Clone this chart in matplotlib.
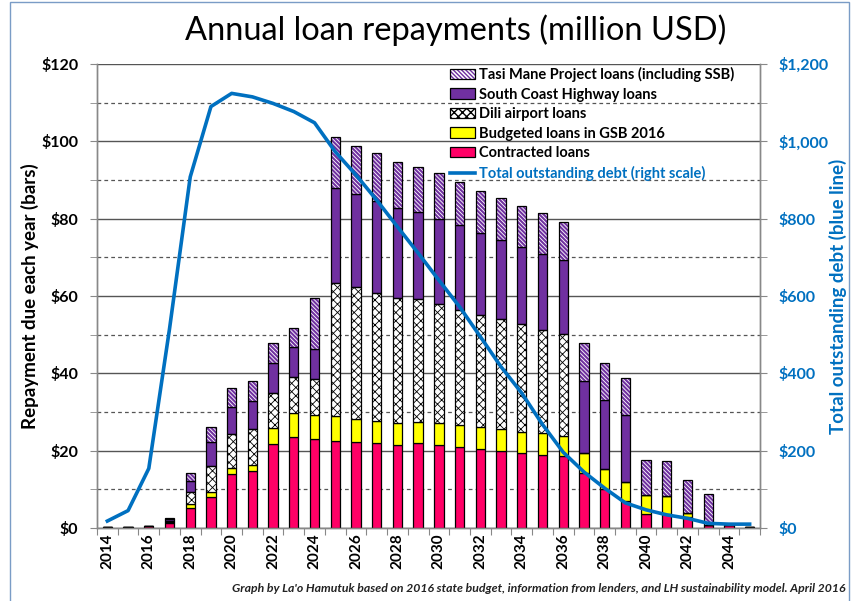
import matplotlib
matplotlib.use("Agg")
import matplotlib.pyplot as plt
import numpy as np
from matplotlib.patches import Patch, Rectangle
from matplotlib.lines import Line2D
from matplotlib.legend_handler import HandlerTuple
from matplotlib.ticker import FuncFormatter, MultipleLocator, FixedLocator

years = list(range(2014, 2046))
contracted = [0.2, 0.2, 0.6, 1.3, 5.3, 7.9, 14.0, 14.7, 21.7, 23.6, 22.9, 22.6, 22.2, 21.9,
              21.4, 21.9, 21.4, 20.9, 20.4, 19.9, 19.5, 19.0, 18.6, 14.3, 10.0, 7.0, 3.5,
              3.5, 2.9, 0.9, 0.8, 0.3]
budgeted = [0, 0, 0, 0.2, 0.9, 1.3, 1.4, 1.6, 4.1, 6.2, 6.4, 6.4, 6.0, 5.9, 5.8, 5.6, 5.7,
            5.7, 5.6, 5.6, 5.4, 5.5, 5.2, 5.2, 5.2, 5.0, 5.0, 4.8, 0.9, 0, 0, 0]
dili = [0, 0, 0, 0.3, 3.2, 6.9, 8.8, 9.2, 9.2, 9.2, 9.2, 34.4, 34.0, 33.1, 32.4, 31.6, 30.8,
        29.9, 29.2, 28.5, 27.8, 26.8, 26.3, 0, 0, 0, 0, 0, 0, 0, 0, 0]
south_coast = [0, 0, 0, 0.4, 2.8, 6.2, 7.2, 7.4, 7.6, 7.7, 7.7, 24.6, 24.2, 23.7, 23.1, 22.7,
               21.9, 21.8, 21.0, 20.5, 20.0, 19.5, 19.2, 18.5, 17.9, 17.2, 0, 0, 0, 0, 0, 0]
tasi_mane = [0, 0, 0, 0.5, 2.1, 3.9, 4.7, 5.2, 5.2, 4.9, 13.2, 13.0, 12.4, 12.3, 12.0, 11.6,
             11.9, 11.3, 11.0, 10.9, 10.6, 10.6, 9.9, 9.9, 9.5, 9.5, 9.1, 8.9, 8.6, 7.9, 0, 0]
total_debt = [18, 45, 154, 515, 908, 1090, 1124, 1115, 1098, 1077, 1048, 973, 913, 848, 779,
              711, 641, 572, 495, 417, 349, 268, 196, 145, 103, 65, 47, 34, 25, 12, 10, 10]

series_labels = ["Contracted loans", "Budgeted loans in GSB 2016", "Dili airport loans",
                 "South Coast Highway loans", "Tasi Mane Project loans (including SSB)"]
line_label = "Total outstanding debt (right scale)"
title = "Annual loan repayments (million USD)"
ylabel_left = "Repayment due each year (bars)"
ylabel_right = "Total outstanding debt (blue line)"
caption = ("Graph by La'o Hamutuk based on 2016 state budget, information from lenders, "
           "and LH sustainability model. April 2016")

PINK = "#FF0066"
YELLOW = "#FFFF00"
PURPLE = "#7030A0"
BLUE = "#0070C0"
FONT = ["Lato", "DejaVu Sans"]

plt.rcParams["font.family"] = FONT

W, H = 852, 601
fig = plt.figure(figsize=(W / 100, H / 100), dpi=100)
ax = fig.add_axes([97 / W, 1 - 528 / H, (760 - 97) / W, (528 - 64) / H])
ax2 = ax.twinx()

x = np.arange(len(years))
bw = 0.45

# Stacked bars
bottom = np.zeros(len(years))
styles = [
    dict(data=contracted, fc=PINK, hatch=None, hc=None),
    dict(data=budgeted, fc=YELLOW, hatch=None, hc=None),
    dict(data=dili, fc="white", hatch="xxxx", hc="black"),
    dict(data=south_coast, fc=PURPLE, hatch=None, hc=None),
    dict(data=tasi_mane, fc="white", hatch="\\\\\\\\\\\\\\\\", hc=PURPLE),
]
legend_handles = []
for st in styles:
    vals = np.array(st["data"], dtype=float)
    if st["hatch"]:
        lw_h = 0.6 if st["hc"] == "black" else 1.5
        with plt.rc_context({"hatch.linewidth": lw_h}):
            bars = ax.bar(x, vals, bw, bottom=bottom, color=st["fc"], edgecolor=st["hc"],
                          hatch=st["hatch"], linewidth=0, zorder=3)
            for b in bars:
                if hasattr(b, "set_hatch_linewidth"):
                    b.set_hatch_linewidth(lw_h)
            hp = Patch(facecolor=st["fc"], edgecolor=st["hc"], hatch=st["hatch"], linewidth=0)
            if hasattr(hp, "set_hatch_linewidth"):
                hp.set_hatch_linewidth(lw_h)
        ax.bar(x, vals, bw, bottom=bottom, fill=False, edgecolor="black", linewidth=0.9, zorder=4)
        op = Patch(facecolor="none", edgecolor="black", linewidth=0.9)
        legend_handles.append((hp, op))
    else:
        ax.bar(x, vals, bw, bottom=bottom, color=st["fc"], edgecolor="black",
               linewidth=0.9, zorder=3)
        legend_handles.append(Patch(facecolor=st["fc"], edgecolor="black", linewidth=0.9))
    bottom = bottom + vals

# Debt line
ax2.plot(x, total_debt, color=BLUE, linewidth=2.6, solid_joinstyle="round", zorder=5)

# Axes limits and ticks
ax.set_xlim(-0.5, len(years) - 0.5)
ax.set_ylim(0, 120)
ax2.set_ylim(0, 1200)

ax.yaxis.set_major_locator(MultipleLocator(20))
ax.yaxis.set_minor_locator(MultipleLocator(10))
ax.yaxis.set_major_formatter(FuncFormatter(lambda v, p: f"${v:,.0f}"))
ax2.yaxis.set_major_locator(MultipleLocator(200))
ax2.yaxis.set_minor_locator(MultipleLocator(100))
ax2.yaxis.set_major_formatter(FuncFormatter(lambda v, p: f"${v:,.0f}"))

ax.grid(True, which="major", axis="y", color="#555555", linewidth=1.0, linestyle="-", zorder=0)
ax.grid(True, which="minor", axis="y", color="#555555", linewidth=0.9,
        linestyle=(0, (3, 2.5)), zorder=0)
ax.set_axisbelow(True)

# X ticks: marks at boundaries, labels at even years
ax.xaxis.set_major_locator(FixedLocator(np.arange(-0.5, len(years), 1.0)))
ax.xaxis.set_major_formatter(FuncFormatter(lambda v, p: ""))
lab_pos = [i for i, yv in enumerate(years) if yv % 2 == 0]
ax.xaxis.set_minor_locator(FixedLocator(lab_pos))
ax.set_xticks(lab_pos, minor=True)
ax.set_xticklabels([str(years[i]) for i in lab_pos], minor=True, rotation=90,
                   fontsize=11, fontweight="bold")
ax.tick_params(axis="x", which="major", length=5, color="#888888", direction="out")
ax.tick_params(axis="x", which="minor", length=0, pad=4)

ax.tick_params(axis="y", which="both", length=5, color="#888888", pad=8.5)
ax.tick_params(axis="y", which="major", labelsize=11.5)
for t in ax.get_yticklabels():
    t.set_fontweight("bold")
ax2.tick_params(axis="y", which="both", length=5, color="#888888", pad=8.5,
                labelcolor=BLUE)
ax2.tick_params(axis="y", which="major", labelsize=11.5)
for t in ax2.get_yticklabels():
    t.set_fontweight("bold")

for a in (ax, ax2):
    for s in a.spines.values():
        s.set_color("#888888")
        s.set_linewidth(1.0)
ax2.spines["top"].set_visible(False)
ax.spines["top"].set_visible(False)

# Labels
fig.text(29.5 / W, 1 - 296 / H, ylabel_left, rotation=90, ha="center", va="center",
         fontsize=13.5, fontweight="bold", color="black")
fig.text(838 / W, 1 - 296 / H, ylabel_right, rotation=90, ha="center", va="center",
         fontsize=13.5, fontweight="bold", color=BLUE)
fig.text(456 / W, 1 - 30 / H, title, ha="center", va="center", fontsize=23.5, color="black")
fig.text(845 / W, 1 - 588 / H, caption, ha="right", va="center", fontsize=8.8,
         fontweight="bold", fontstyle="italic", color="#222222")

# Legend (order: top to bottom)
handles = [legend_handles[4], legend_handles[3], legend_handles[2], legend_handles[1],
           legend_handles[0], Line2D([], [], color=BLUE, linewidth=2.6)]
labels = [series_labels[4], series_labels[3], series_labels[2], series_labels[1],
          series_labels[0], line_label]
leg = ax2.legend(handles, labels, loc="upper left",
                 bbox_to_anchor=(447 / W, 1 - 64 / H), bbox_transform=fig.transFigure,
                 frameon=False, fontsize=10.5, handlelength=1.75, handleheight=0.7,
                 handletextpad=0.25, labelspacing=0.38, borderpad=0.2, borderaxespad=0,
                 handler_map={tuple: HandlerTuple(ndivide=1, pad=0)})
for txt in leg.get_texts():
    txt.set_fontweight("bold")
leg.get_texts()[-1].set_color(BLUE)

# Figure border
fig.patches.append(Rectangle((10 / W, -0.01), (849 - 10) / W, 1 - 2 / H + 0.01,
                             transform=fig.transFigure, fill=False,
                             edgecolor="#7A9CC6", linewidth=1.0))

fig.savefig("out.png", dpi=100)
